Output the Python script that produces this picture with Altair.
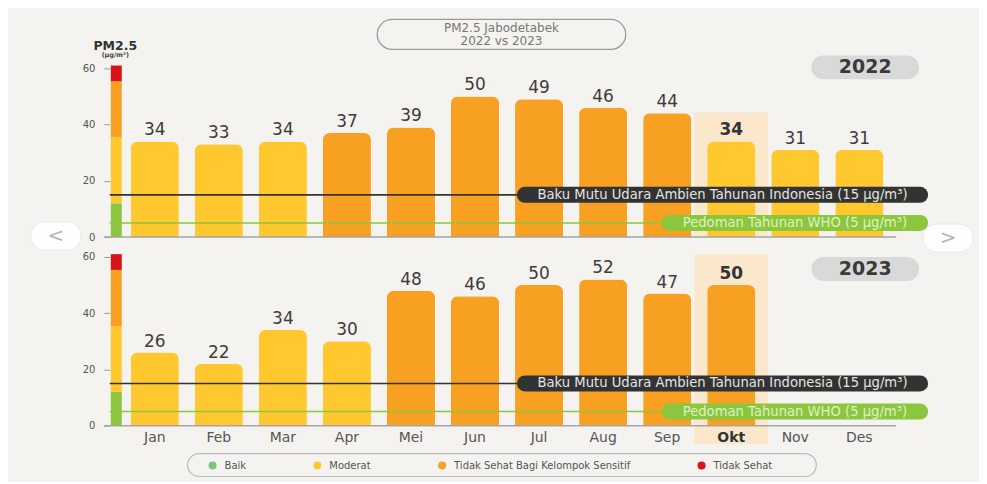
import altair as alt
import pandas as pd

# ---------------- data ----------------
months = ["Jan", "Feb", "Mar", "Apr", "Mei", "Jun", "Jul", "Aug", "Sep", "Okt", "Nov", "Des"]
pm_2022 = [34, 33, 34, 37, 39, 50, 49, 46, 44, 34, 31, 31]
pm_2023 = [26, 22, 34, 30, 48, 46, 50, 52, 47, 50]
year_labels = ["2022", "2023"]

categories = ["Baik", "Moderat", "Tidak Sehat Bagi Kelompok Sensitif", "Tidak Sehat"]
category_colors = ["#7DC67E", "#FFC82E", "#F8A021", "#D7141A"]
category_upper = [12.0, 35.4, 55.4, 61.0]
scale_bar_colors = ["#8CC63F", "#FFC82E", "#F8A021", "#D7141A"]

ref_values = [15, 5]
ref_labels = ["Baku Mutu Udara Ambien Tahunan Indonesia (15 µg/m³)",
              "Pedoman Tahunan WHO (5 µg/m³)"]
ref_line_colors = ["#333333", "#8CC63F"]
ref_pill_colors = ["#333333", "#8CC63F"]
ref_text_colors = ["#E4E4E4", "#DDF2C2"]

highlight_month = "Okt"
highlight_top = [44.3, 61.0]
highlight_bottom = [0.0, -6.5]
y_ticks = [0, 20, 40, 60]

# ---------------- layout / style ----------------
BG = "#F4F3EF"
W, H = 788, 169
FONT = "DejaVu Sans"
ref_pill_x = [(416, 812), (561, 812)]
badge_y = [-1, 12]


def categorize(v):
    for c, up in zip(categories, category_upper):
        if v <= up:
            return c
    return categories[-1]


def one_row(**kw):
    return pd.DataFrame({k: [v] for k, v in kw.items()})


def panel(values, idx, top):
    yscale = alt.Scale(domain=[0, 60], nice=False)
    yaxis = alt.Axis(values=y_ticks, domain=False, grid=False, tickSize=6, tickColor="#9a9a9a",
                     tickWidth=1, labelColor="#555", labelFont=FONT, labelFontSize=10,
                     labelPadding=9, title=None)
    xscale = alt.Scale(domain=months, paddingInner=0.25, paddingOuter=0.264, align=0.62)
    if top:
        xaxis = None
    else:
        xaxis = alt.Axis(title=None, domain=False, ticks=False, labelPadding=5, labelFont=FONT,
                         labelFontSize=14, labelAngle=0, zindex=1,
                         labelColor={"condition": {"test": "datum.value === 'Okt'", "value": "#333333"},
                                     "value": "#555555"},
                         labelFontWeight={"condition": {"test": "datum.value === 'Okt'", "value": "bold"},
                                          "value": "normal"})
    xenc = alt.X("month:N", scale=xscale, axis=xaxis, sort=months)

    def Y(field):
        return alt.Y(field, type="quantitative", scale=yscale, axis=yaxis, title=None)

    df = pd.DataFrame({"month": months[:len(values)], "pm": values})
    df["cat"] = [categorize(v) for v in values]

    layers = []
    # highlight band
    hl = one_row(month=highlight_month, lo=highlight_bottom[idx], hi=highlight_top[idx])
    layers.append(alt.Chart(hl).mark_bar(color="#FBE8CC", width=74).encode(
        x=xenc, y=Y("lo"), y2="hi"))
    # colored scale bar
    lows = [0.0] + category_upper[:-1]
    for lo, hi, c in zip(lows, category_upper, scale_bar_colors):
        layers.append(alt.Chart(one_row(lo=lo, hi=hi)).mark_bar(color=c).encode(
            x=alt.value(1), x2=alt.value(12), y=Y("lo"), y2="hi"))
    # bars
    if top:
        legend = None
    else:
        legend = alt.Legend(orient="none", legendX=98, legendY=204, direction="horizontal", title=None,
                            symbolType="circle", symbolSize=64, symbolStrokeWidth=0,
                            labelFont=FONT, labelFontSize=10, labelColor="#555", labelLimit=400,
                            columnPadding=66, padding=0, labelOffset=7)
    layers.append(alt.Chart(df).mark_bar(cornerRadiusTopLeft=7, cornerRadiusTopRight=7).encode(
        x=xenc, y=Y("pm"),
        color=alt.Color("cat:N", scale=alt.Scale(domain=categories, range=category_colors), legend=legend)))
    # baseline
    layers.append(alt.Chart(one_row(v=0)).mark_rule(color="#A5A5A5", strokeWidth=1.5).encode(
        y=Y("v"), x=alt.value(-6), x2=alt.value(W)))
    # reference lines with label pills
    for v, lab, lc, pc, tc, (px1, px2) in zip(ref_values, ref_labels, ref_line_colors,
                                             ref_pill_colors, ref_text_colors, ref_pill_x):
        d = one_row(v=v, label=lab)
        layers.append(alt.Chart(d).mark_rule(color=lc, strokeWidth=1.6).encode(
            y=Y("v"), x=alt.value(0), x2=alt.value(px2)))
        layers.append(alt.Chart(d).mark_rule(color=pc, strokeWidth=16, strokeCap="round").encode(
            y=Y("v"), x=alt.value(px1), x2=alt.value(px2)))
        layers.append(alt.Chart(d).mark_text(color=tc, font=FONT, fontSize=13.2, baseline="middle",
                                             align="center").encode(
            y=Y("v"), x=alt.value((px1 + px2) / 2), text="label:N"))
    # value labels
    layers.append(alt.Chart(df).transform_filter(alt.datum.month != highlight_month).mark_text(
        font=FONT, fontSize=17, color="#3d3d3d", baseline="alphabetic", dy=-6).encode(
        x=xenc, y=Y("pm"), text="pm:Q"))
    layers.append(alt.Chart(df).transform_filter(alt.datum.month == highlight_month).mark_text(
        font=FONT, fontSize=17, fontWeight="bold", color="#333", baseline="alphabetic", dy=-6).encode(
        x=xenc, y=Y("pm"), text="pm:Q"))
    # year badge
    yb = one_row(label=year_labels[idx])
    layers.append(alt.Chart(yb).mark_rule(color="#D9D9D9", strokeWidth=24, strokeCap="round").encode(
        x=alt.value(715), x2=alt.value(799), y=alt.value(badge_y[idx])))
    layers.append(alt.Chart(yb).mark_text(font=FONT, fontSize=19, fontWeight="bold", color="#3a3a3a",
                                          baseline="middle").encode(
        x=alt.value(757), y=alt.value(badge_y[idx]), text="label:N"))

    if top:
        t = one_row(a=0)
        layers.append(alt.Chart(t).mark_rect(cornerRadius=15, fill=BG, stroke="#9a9a9a", strokeWidth=1.3).encode(
            x=alt.value(268), x2=alt.value(517), y=alt.value(-49), y2=alt.value(-19)))
        layers.append(alt.Chart(one_row(s="PM2.5 Jabodetabek")).mark_text(
            font=FONT, fontSize=12, color="#777", baseline="middle").encode(
            x=alt.value(392.5), y=alt.value(-40.5), text="s:N"))
        layers.append(alt.Chart(one_row(s="2022 vs 2023")).mark_text(
            font=FONT, fontSize=12, color="#777", baseline="middle").encode(
            x=alt.value(392.5), y=alt.value(-27), text="s:N"))
        layers.append(alt.Chart(one_row(s="PM2.5")).mark_text(
            font=FONT, fontSize=12.5, fontWeight="bold", color="#333", baseline="middle").encode(
            x=alt.value(5.5), y=alt.value(-22.5), text="s:N"))
        layers.append(alt.Chart(one_row(s="(µg/m³)")).mark_text(
            font=FONT, fontSize=6.5, fontWeight="bold", color="#444", baseline="middle").encode(
            x=alt.value(5.5), y=alt.value(-13), text="s:N"))
        # carousel buttons
        stadium = "M -0.8 -1 L 0.8 -1 A 1 1 0 0 1 0.8 1 L -0.8 1 A 1 1 0 0 1 -0.8 -1 Z"
        for (bx, by, ch) in [(-54, H - 1, "<"), (840, H + 1, ">")]:
            b = one_row(s=ch)
            layers.append(alt.Chart(b).mark_point(shape=stadium, size=784, filled=True, fill="#FFFFFF",
                                                  opacity=0.95, stroke="#E6E6E6", strokeWidth=0.8).encode(
                x=alt.value(bx), y=alt.value(by)))
            layers.append(alt.Chart(b).mark_text(font=FONT, fontSize=20, color="#B5B5B5",
                                                 baseline="middle").encode(
                x=alt.value(bx), y=alt.value(by), text="s:N"))
    else:
        layers.append(alt.Chart(one_row(a=0)).mark_rect(cornerRadius=11.5, fill=BG, stroke="#BBBBBB",
                                                       strokeWidth=1.2).encode(
            x=alt.value(78), x2=alt.value(708), y=alt.value(197), y2=alt.value(220)))

    return alt.layer(*layers).properties(width=W, height=H)


top = panel(pm_2022, 0, True)
bottom = panel(pm_2023, 1, False)

chart = alt.vconcat(top, bottom, spacing=20, bounds="flush").resolve_scale(
    color="independent"
).properties(
    padding={"left": 21, "top": 10, "right": 4, "bottom": 4},
    background=BG,
).configure_view(stroke=None)

chart.save("out.html", embed_options={"renderer": "svg", "actions": False})
